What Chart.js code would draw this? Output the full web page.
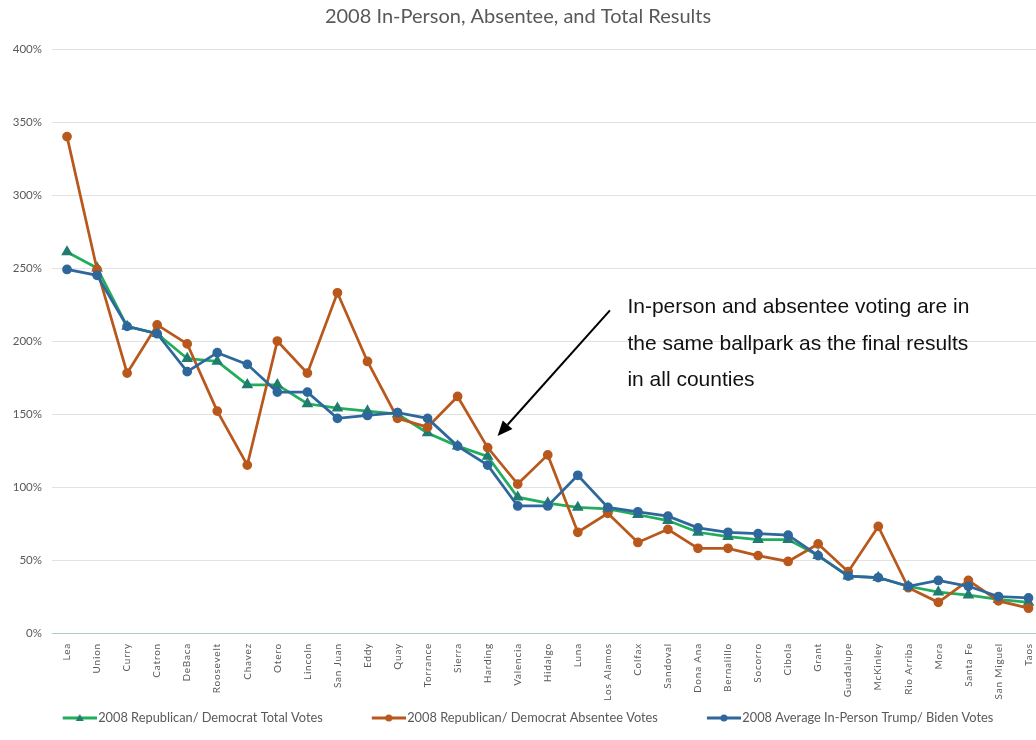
<!DOCTYPE html>
<html><head><meta charset="utf-8">
<script src="https://cdn.jsdelivr.net/npm/chart.js@4.4.0/dist/chart.umd.min.js"></script>
<style>html,body{margin:0;padding:0;background:#fff;}#wrap{width:1036px;height:740px;}</style>
</head><body><div id="wrap"><canvas id="c" width="1036" height="740"></canvas></div>
<script>
const counties = ['Lea','Union','Curry','Catron','DeBaca','Roosevelt','Chavez','Otero','Lincoln','San Juan','Eddy','Quay','Torrance','Sierra','Harding','Valencia','Hidalgo','Luna','Los Alamos','Colfax','Sandoval','Dona Ana','Bernalillo','Socorro','Cibola','Grant','Guadalupe','McKinley','Rio Arriba','Mora','Santa Fe','San Miguel','Taos'];
const totalVotes    = [261,250,210,205,188,186,170,170,157,154,152,150,137,128,121,93,89,86,85,81,77,69,66,64,64,53,39,38,32,28,26,23,21];
const absenteeVotes = [340,249,178,211,198,152,115,200,178,233,186,147,141,162,127,102,122,69,82,62,71,58,58,53,49,61,42,73,31,21,36,22,17];
const inPersonVotes = [249,245,210,205,179,192,184,165,165,147,149,151,147,128,115,87,87,108,86,83,80,72,69,68,67,53,39,38,32,36,32,25,24];
const yTickStep = 50;
const yMax = 400;
const titleText = '2008 In-Person, Absentee, and Total Results';
const seriesNames = ['2008 Republican/ Democrat Total Votes','2008 Republican/ Democrat Absentee Votes','2008 Average In-Person Trump/ Biden Votes'];
const noteLines = ['In-person and absentee voting are in','the same ballpark as the final results','in all counties'];

const GREEN = '#22ad5c', GREEN_MK = '#1f7d70', BROWN = '#b9581c', BLUE = '#2e679c';

// legend icon: transparent gap on the left, then line with marker
function legendIcon(line, mk, style) {
  const c = document.createElement('canvas');
  c.width = 59; c.height = 10;
  const x = c.getContext('2d');
  const x0 = 25, x1 = 59, xm = (x0 + x1) / 2;
  x.strokeStyle = line; x.lineWidth = 3;
  x.beginPath(); x.moveTo(x0, 5); x.lineTo(x1, 5); x.stroke();
  x.fillStyle = mk;
  x.beginPath();
  if (style === 'triangle') { x.moveTo(xm, 1); x.lineTo(xm + 4, 8); x.lineTo(xm - 4, 8); x.closePath(); }
  else { x.arc(xm, 5, 3.5, 0, Math.PI * 2); }
  x.fill();
  return c;
}

const annotationPlugin = {
  id: 'note',
  afterDraw(chart) {
    const ctx = chart.ctx, xs = chart.scales.x, ys = chart.scales.y;
    const tipX = xs.getPixelForValue(14.33), tipY = ys.getPixelForValue(135);
    const tailX = xs.getPixelForValue(18.07), tailY = ys.getPixelForValue(221);
    const ang = Math.atan2(tipY - tailY, tipX - tailX);
    const hl = 15, hw = 6.5;
    const bx = tipX - hl * Math.cos(ang), by = tipY - hl * Math.sin(ang);
    ctx.save();
    ctx.strokeStyle = '#000'; ctx.fillStyle = '#000'; ctx.lineWidth = 2;
    ctx.beginPath(); ctx.moveTo(tailX, tailY); ctx.lineTo(bx, by); ctx.stroke();
    ctx.beginPath();
    ctx.moveTo(tipX, tipY);
    ctx.lineTo(bx + hw * Math.sin(ang), by - hw * Math.cos(ang));
    ctx.lineTo(bx - hw * Math.sin(ang), by + hw * Math.cos(ang));
    ctx.closePath(); ctx.fill();
    ctx.font = '21px "Liberation Sans", Arial, sans-serif';
    ctx.fillStyle = '#111'; ctx.textAlign = 'left'; ctx.textBaseline = 'alphabetic';
    const tx = xs.getPixelForValue(18.65);
    const bases = [219.2, 194, 169.4];
    noteLines.forEach((t, i) => ctx.fillText(t, tx, ys.getPixelForValue(bases[i])));
    ctx.restore();
  }
};

const spacingPlugin = {
  id: 'spacing',
  beforeDraw(chart) {
    const xs = chart.scales.x;
    if (xs && !xs._patched) {
      const orig = xs.drawLabels;
      xs._computeLabelArea = function () { return undefined; };
      xs.drawLabels = function (ca) {
        const c = this.ctx; c.save(); c.letterSpacing = '0.8px'; orig.call(this, ca); c.restore();
      };
      xs._patched = true;
    }
  }
};

const idx = counties.map((_, i) => i);
new Chart(document.getElementById('c'), {
  type: 'line',
  data: {
    labels: idx,
    datasets: [
      { label: seriesNames[0], data: totalVotes, borderColor: GREEN, backgroundColor: GREEN_MK,
        pointStyle: 'triangle', pointRadius: 4, pointBackgroundColor: GREEN_MK, pointBorderColor: GREEN_MK,
        borderWidth: 2.75, tension: 0, order: 3 },
      { label: seriesNames[1], data: absenteeVotes, borderColor: BROWN, backgroundColor: BROWN,
        pointStyle: 'circle', pointRadius: 3.5, pointBackgroundColor: BROWN, pointBorderColor: BROWN,
        borderWidth: 2.75, tension: 0, order: 2 },
      { label: seriesNames[2], data: inPersonVotes, borderColor: BLUE, backgroundColor: BLUE,
        pointStyle: 'circle', pointRadius: 3.5, pointBackgroundColor: BLUE, pointBorderColor: BLUE,
        borderWidth: 2.75, tension: 0, order: 1 }
    ]
  },
  options: {
    responsive: false, animation: false,
    layout: { autoPadding: false, padding: { top: 0, right: 0, bottom: 5.6, left: 0 } },
    plugins: {
      tooltip: { enabled: false },
      title: { display: true, text: titleText, color: '#595959',
        font: { family: 'Lato, "Open Sans", sans-serif', size: 20, weight: 'normal' },
        padding: { top: 5, bottom: 20 } },
      legend: {
        position: 'bottom',
        labels: {
          usePointStyle: true, pointStyleWidth: 49, padding: 29, color: '#595959',
          font: { family: 'Lato, sans-serif', size: 12.8 },
          generateLabels(chart) {
            return chart.data.datasets.map((ds, i) => ({
              text: ds.label, fillStyle: ds.borderColor, strokeStyle: ds.borderColor, lineWidth: 0,
              pointStyle: legendIcon(ds.borderColor, ds.pointBackgroundColor, ds.pointStyle),
              hidden: !chart.isDatasetVisible(i), datasetIndex: i, fontColor: '#595959'
            }));
          }
        }
      }
    },
    scales: {
      x: {
        type: 'linear', min: -0.5, max: 32.25,
        grid: { display: false }, border: { display: false },
        afterBuildTicks(s) { s.ticks = idx.map(i => ({ value: i })); },
        afterFit(s) { s.height = 49.6; s.paddingLeft = 0; s.paddingRight = 0; },
        ticks: { autoSkip: false, maxRotation: 90, minRotation: 90, padding: 2, color: '#595959',
          font: { family: 'Lato, sans-serif', size: 10 },
          callback: v => counties[v] ?? '' }
      },
      y: {
        min: 0, max: yMax,
        afterFit(s) { s.width = 52; },
        border: { display: false },
        grid: { drawTicks: false, color: c => c.tick && c.tick.value === 0 ? '#a9cfc8' : '#e2e2e2' },
        ticks: { stepSize: yTickStep, padding: 10, color: '#595959',
          font: { family: 'Lato, sans-serif', size: 11.5 },
          callback: v => v + '%' }
      }
    }
  },
  plugins: [annotationPlugin, spacingPlugin]
});
</script></body></html>
